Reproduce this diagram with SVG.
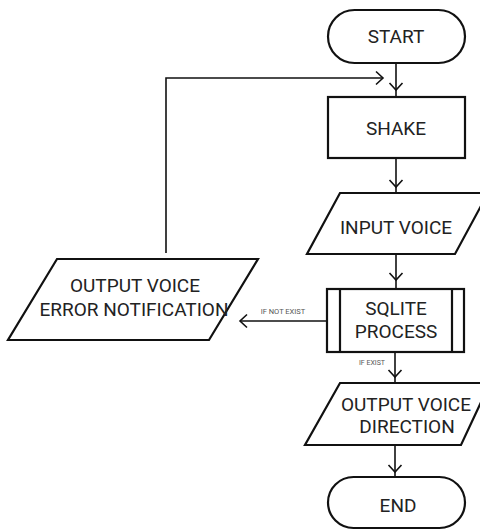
<svg xmlns="http://www.w3.org/2000/svg" width="480" height="531" viewBox="0 0 480 531">
<style>
.shape{fill:#fff;stroke:#111;stroke-width:2.2}
.conn{fill:none;stroke:#111;stroke-width:1.6}
.head{fill:none;stroke:#111;stroke-width:1.6}
.t{font-family:Roboto,"Liberation Sans",sans-serif;font-size:19px;fill:#222;text-anchor:middle}
.lbl{font-family:Roboto,"Liberation Sans",sans-serif;font-size:7.5px;fill:#555;text-anchor:middle}
</style>
<rect width="480" height="531" fill="#fff"/>
<g id="connectors">
  <path class="conn" d="M396 63 V97"/>
  <path class="head" d="M389.5 83 L396 90 L402.5 83"/>
  <path class="conn" d="M166 253 V78 H383"/>
  <path class="head" d="M376 71.5 L383 78 L376 84.5"/>
  <path class="conn" d="M396 158 V193"/>
  <path class="head" d="M389.5 180 L396 187 L402.5 180"/>
  <path class="conn" d="M396 254 V289"/>
  <path class="head" d="M389.5 273 L396 280 L402.5 273"/>
  <path class="conn" d="M327 321 H240"/>
  <path class="head" d="M247 314.5 L240 321 L247 327.5"/>
  <text class="lbl" x="283" y="314">IF NOT EXIST</text>
  <path class="conn" d="M395 352 V383"/>
  <path class="head" d="M388.5 370 L395 377 L401.5 370"/>
  <text class="lbl" x="372" y="365" style="font-size:7px">IF EXIST</text>
  <path class="conn" d="M395 446 V477"/>
  <path class="head" d="M388.5 465 L395 472 L401.5 465"/>
</g>
<g id="start">
  <rect class="shape" x="328" y="10" width="137" height="53" rx="26.5"/>
  <text class="t" x="396" y="43">START</text>
</g>
<g id="shake">
  <rect class="shape" x="328" y="97" width="137" height="61"/>
  <text class="t" x="396" y="135">SHAKE</text>
</g>
<g id="input-voice">
  <polygon class="shape" points="340,193 488,193 455,254 307,254"/>
  <text class="t" x="396" y="234">INPUT VOICE</text>
</g>
<g id="sqlite-process">
  <rect class="shape" x="327" y="289" width="137" height="63"/>
  <path class="shape" d="M340 289 V352 M452 289 V352"/>
  <text class="t" x="396" y="315">SQLITE</text>
  <text class="t" x="396" y="338">PROCESS</text>
</g>
<g id="output-error">
  <polygon class="shape" points="57,259 258,259 209,340 8,340"/>
  <text class="t" x="135" y="292">OUTPUT VOICE</text>
  <text class="t" x="134" y="316">ERROR NOTIFICATION</text>
</g>
<g id="output-direction">
  <polygon class="shape" points="340,383 490,383 461,445 305,445"/>
  <text class="t" x="406" y="411">OUTPUT VOICE</text>
  <text class="t" x="407" y="433">DIRECTION</text>
</g>
<g id="end">
  <rect class="shape" x="328" y="477" width="137" height="51" rx="25.5"/>
  <text class="t" x="398" y="512">END</text>
</g>
</svg>
